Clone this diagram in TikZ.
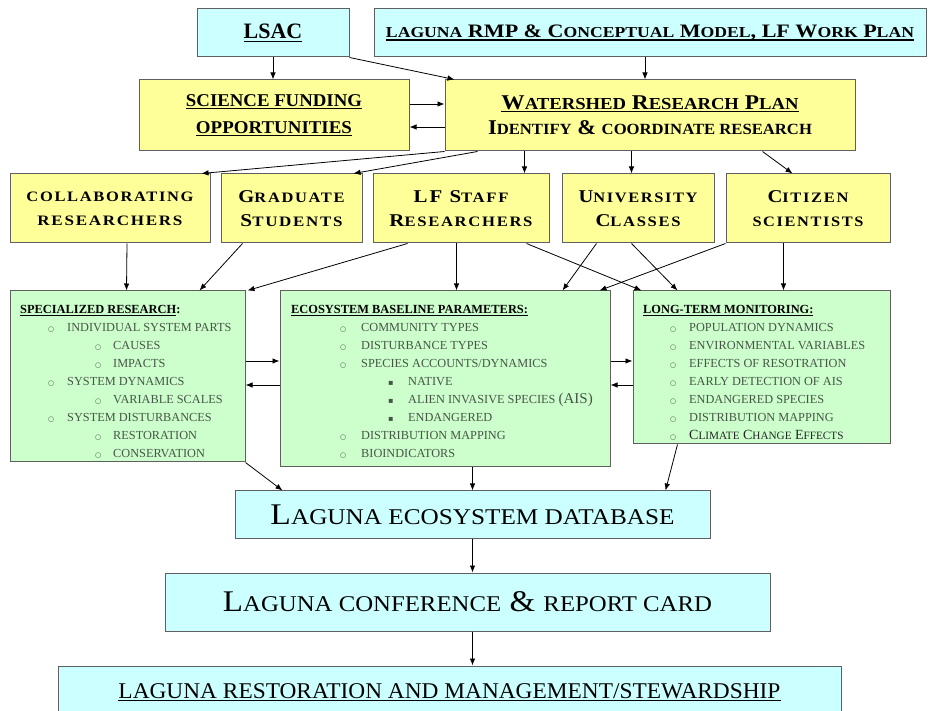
\documentclass[tikz,border=0pt]{standalone}
\usepackage{fontspec}
\setmainfont{Liberation Serif}
\newfontfamily\sym{DejaVu Sans}
\usepackage{graphicx}
\usetikzlibrary{arrows.meta,calc}
\definecolor{cyanbox}{RGB}{204,255,255}
\definecolor{yelbox}{RGB}{255,255,153}
\definecolor{grnbox}{RGB}{204,255,204}
\definecolor{edge}{RGB}{95,95,95}
\definecolor{greentext}{RGB}{72,84,72}
\newcommand\smc[1]{{\fontsize{0.8em}{0pt}\selectfont #1}}
\newcommand\bsmc[1]{{\fontsize{0.74em}{0pt}\selectfont #1}}
\newcommand\cbul{{\sym\fontsize{7}{7}\selectfont ○}}
\newcommand\sbul{{\sym\fontsize{8}{8}\selectfont ▪}}
\newsavebox\ulbox
\newcommand\uline[1]{\leavevmode\sbox\ulbox{#1}\rlap{\vrule height -1.6pt depth 2.7pt width \wd\ulbox}\usebox\ulbox}
\newcommand\Ia[1]{\hspace*{28pt}\makebox[19pt][l]{\cbul}#1}
\newcommand\Ib[1]{\hspace*{75pt}\makebox[18pt][l]{\cbul}#1}
\newcommand\Ea[1]{\hspace*{49pt}\makebox[21pt][l]{\cbul}#1}
\newcommand\Eb[1]{\hspace*{97pt}\makebox[20pt][l]{\sbul}#1}
\newcommand\La[1]{\hspace*{27pt}\makebox[19pt][l]{\cbul}#1}
\begin{document}
\begin{tikzpicture}[x=1pt,y=-1pt,
  box/.style={draw=edge,line width=1pt,inner sep=0pt,align=center},
  cbox/.style={box,fill=cyanbox},
  ybox/.style={box,fill=yelbox},
  gbox/.style={box,fill=grnbox},
  rowthree/.style={ybox,minimum height=69pt,font=\bfseries\fontsize{18}{24}\selectfont\addfontfeatures{LetterSpace=10}},
  arr/.style={-{Latex[length=7pt,width=5.5pt]},line width=0.8pt,black},
  lbl/.style={inner sep=0pt,anchor=base west,text=greentext,font=\fontsize{12.3}{18}\selectfont},
  gtitle/.style={}]
\useasboundingbox (0,0) rectangle (930,711);
% top row
\node[cbox,minimum width=152pt,minimum height=48pt] (lsac) at (273,33)
  {\bfseries\fontsize{22}{22}\selectfont\uline{LSAC}};
\node[cbox,minimum width=552pt,minimum height=48pt] (rmp) at (650,33)
  {\resizebox{528pt}{\height}{\bfseries\fontsize{19}{19}\selectfont\uline{\smc{LAGUNA} RMP \& C\smc{ONCEPTUAL} M\smc{ODEL}, LF W\smc{ORK} P\smc{LAN}}}};
% second row
\node[ybox,minimum width=270pt,minimum height=71pt,font=\bfseries\fontsize{18}{27}\selectfont] (fund) at (274,115.5)
  {\resizebox{176pt}{\height}{\uline{SCIENCE FUNDING}}\\\resizebox{156pt}{\height}{\uline{OPPORTUNITIES}}};
\node[ybox,minimum width=410pt,minimum height=71pt,font=\bfseries\fontsize{21}{25}\selectfont] (wrp) at (650,115.5)
  {\resizebox{297pt}{\height}{\uline{W\smc{ATERSHED} R\smc{ESEARCH} P\smc{LAN}}}\\\resizebox{324pt}{\height}{I\bsmc{DENTIFY} \& \bsmc{COORDINATE RESEARCH}}};
% third row
\node[rowthree,minimum width=200pt] (collab) at (110,208.5)
  {\resizebox{167pt}{\height}{\smc{COLLABORATING}}\\\resizebox{145pt}{\height}{\smc{RESEARCHERS}}};
\node[rowthree,minimum width=141pt] (grad) at (291.5,208.5)
  {\resizebox{106pt}{\height}{G\smc{RADUATE}}\\\resizebox{102pt}{\height}{S\smc{TUDENTS}}};
\node[rowthree,minimum width=176pt] (lfstaff) at (461,208.5)
  {\resizebox{95pt}{\height}{LF S\smc{TAFF}}\\\resizebox{143pt}{\height}{R\smc{ESEARCHERS}}};
\node[rowthree,minimum width=152pt] (univ) at (638,208.5)
  {\resizebox{119pt}{\height}{U\smc{NIVERSITY}}\\\resizebox{85pt}{\height}{C\smc{LASSES}}};
\node[rowthree,minimum width=164pt] (citizen) at (808,208.5)
  {\resizebox{81pt}{\height}{C\smc{ITIZEN}}\\\resizebox{111pt}{\height}{\smc{SCIENTISTS}}};
% green boxes
\node[gbox,minimum width=235pt,minimum height=171pt] (spec) at (127.5,376.5) {};
\node[gbox,minimum width=330pt,minimum height=176pt] (eco) at (445,379) {};
\node[gbox,minimum width=257pt,minimum height=153pt] (ltm) at (761.5,367.5) {};
\node[lbl] (spectxt) at (20,305) {\begin{minipage}[t]{225pt}\setlength\baselineskip{18pt}%
  {\color{black}\bfseries\fontsize{12.4}{18}\selectfont\uline{SPECIALIZED RESEARCH}:}\\
  \Ia{INDIVIDUAL SYSTEM PARTS}\\
  \Ib{CAUSES}\\
  \Ib{IMPACTS}\\
  \Ia{SYSTEM DYNAMICS}\\
  \Ib{VARIABLE SCALES}\\
  \Ia{SYSTEM DISTURBANCES}\\
  \Ib{RESTORATION}\\
  \Ib{CONSERVATION}\end{minipage}};
\node[lbl] (ecotxt) at (291,305) {\begin{minipage}[t]{315pt}\setlength\baselineskip{18pt}%
  {\color{black}\bfseries\fontsize{12.4}{18}\selectfont\uline{ECOSYSTEM BASELINE PARAMETERS:}}\\
  \Ea{COMMUNITY TYPES}\\
  \Ea{DISTURBANCE TYPES}\\
  \Ea{SPECIES ACCOUNTS/DYNAMICS}\\
  \Eb{NATIVE}\\
  \Eb{ALIEN INVASIVE SPECIES {\fontsize{15}{18}\selectfont(AIS)}}\\
  \Eb{ENDANGERED}\\
  \Ea{DISTRIBUTION MAPPING}\\
  \Ea{BIOINDICATORS}\end{minipage}};
\node[lbl] (ltmtxt) at (643,305) {\begin{minipage}[t]{240pt}\setlength\baselineskip{18pt}%
  {\color{black}\bfseries\fontsize{12.4}{18}\selectfont\uline{LONG-TERM MONITORING:}}\\
  \La{POPULATION DYNAMICS}\\
  \La{ENVIRONMENTAL VARIABLES}\\
  \La{EFFECTS OF RESOTRATION}\\
  \La{EARLY DETECTION OF AIS}\\
  \La{ENDANGERED SPECIES}\\
  \La{DISTRIBUTION MAPPING}\\
  \La{{\color{black!85}\fontsize{14}{18}\selectfont C\smc{LIMATE} C\smc{HANGE} E\smc{FFECTS}}}\end{minipage}};
% bottom boxes
\node[cbox,minimum width=475pt,minimum height=47pt] (db) at (472.5,514.5)
  {\resizebox{404pt}{\height}{\fontsize{30}{30}\selectfont L{\fontsize{22.5}{22}\selectfont AGUNA ECOSYSTEM DATABASE}}};
\node[cbox,minimum width=605pt,minimum height=58pt] (conf) at (467.5,602)
  {\resizebox{489pt}{\height}{\fontsize{30}{30}\selectfont L{\fontsize{22.5}{22}\selectfont AGUNA CONFERENCE} \& {\fontsize{22.5}{22}\selectfont REPORT CARD}}};
\node[cbox,minimum width=783pt,minimum height=56pt] (rest) at (449.5,694)
  {\raisebox{6pt}{\resizebox{662pt}{\height}{\fontsize{22.5}{22}\selectfont\uline{LAGUNA RESTORATION AND MANAGEMENT/STEWARDSHIP}}}};
% arrows top
\draw[arr] (lsac.south) -- (lsac.south |- fund.north);
\draw[arr] (lsac.south east) -- ($(wrp.north west)+(10,0)$);
\draw[arr] ($(rmp.south)+(-5,0)$) -- ($(wrp.north)+(-5,0)$);
\draw[arr] ($(fund.east)+(0,-11.5)$) -- ($(wrp.west)+(0,-11.5)$);
\draw[arr] ($(wrp.west)+(0,11.5)$) -- ($(fund.east)+(0,11.5)$);
% from watershed plan
\draw[arr] (wrp.south west) -- ($(collab.north east)+(-9,0)$);
\draw[arr] ($(wrp.south west)+(33,0)$) -- ($(grad.north east)+(-9,0)$);
\draw[arr] ($(wrp.south west)+(80,0)$) -- ($(lfstaff.north west)+(152,0)$);
\draw[arr] ($(wrp.south west)+(187,0)$) -- ($(univ.north west)+(70,0)$);
\draw[arr] ($(wrp.south west)+(318,0)$) -- ($(citizen.north west)+(67,0)$);
% row three to green boxes
\draw[arr] ($(collab.south)+(17,0)$) -- ($(spec.north west)+(117,0)$);
\draw[arr] ($(grad.south west)+(22,0)$) -- ($(spec.north west)+(190,0)$);
\draw[arr] ($(lfstaff.south west)+(35,0)$) -- ($(spec.north east)+(2,0)$);
\draw[arr] ($(lfstaff.south west)+(84,0)$) -- ($(eco.north west)+(177,0)$);
\draw[arr] ($(lfstaff.south west)+(154,0)$) -- ($(ltm.north west)+(9,0)$);
\draw[arr] ($(univ.south west)+(35,0)$) -- ($(eco.north west)+(283,0)$);
\draw[arr] ($(univ.south west)+(70,0)$) -- ($(ltm.north west)+(45,0)$);
\draw[arr] (citizen.south west) -- ($(eco.north west)+(320,0)$);
\draw[arr] ($(citizen.south west)+(58,0)$) -- ($(ltm.north west)+(151,0)$);
% between green boxes
\draw[arr] ($(spec.east)+(0,-15.5)$) -- ($(spec.east -| eco.west)+(0,-15.5)$);
\draw[arr] ($(spec.east -| eco.west)+(0,8.5)$) -- ($(spec.east)+(0,8.5)$);
\draw[arr] ($(eco.east)+(0,-18)$) -- ($(eco.east -| ltm.west)+(0,-18)$);
\draw[arr] ($(eco.east -| ltm.west)+(0,6)$) -- ($(eco.east)+(0,6)$);
% to database and below
\draw[arr] (spec.south east) -- ($(db.north west)+(48,0)$);
\draw[arr] (db.north |- eco.south) -- (db.north);
\draw[arr] ($(ltm.south west)+(45,0)$) -- ($(db.north east)+(-45,0)$);
\draw[arr] (db.south) -- (db.south |- conf.north);
\draw[arr] (db.south |- conf.south) -- (db.south |- rest.north);
\end{tikzpicture}
\end{document}
